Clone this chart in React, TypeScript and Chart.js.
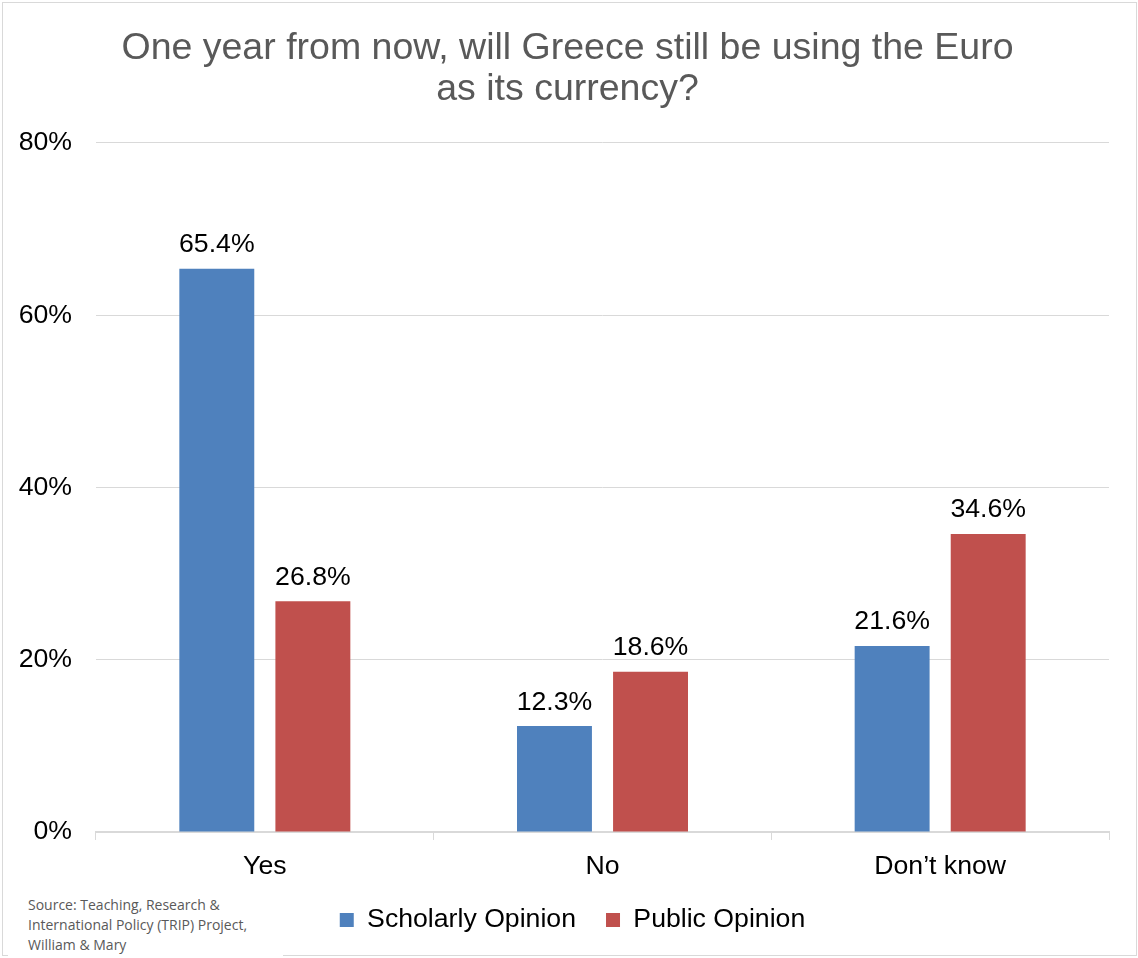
import React, { useEffect, useRef } from "react";
import { Chart, registerables } from "chart.js";

Chart.register(...registerables);

const categories = ["Yes", "No", "Don\u2019t know"];
const scholarly = [65.4, 12.3, 21.6];
const publicOp = [26.8, 18.6, 34.6];
const seriesNames = ["Scholarly Opinion", "Public Opinion"];
const yTicks = [0, 20, 40, 60, 80];
const titleLines = ["One year from now, will Greece still be using the Euro", "as its currency?"];
const sourceLines = ["Source: Teaching, Research &", "International Policy (TRIP) Project,", "William & Mary"];

const FONT = "'Liberation Sans', Arial, sans-serif";
const LABEL_SIZE = 26.67;

const dataLabelPlugin = {
  id: "dataLabels",
  afterDatasetsDraw(chart: any) {
    const ctx = chart.ctx;
    ctx.save();
    ctx.font = `${LABEL_SIZE}px ${FONT}`;
    ctx.fillStyle = "#000000";
    ctx.textAlign = "center";
    ctx.textBaseline = "alphabetic";
    chart.data.datasets.forEach((ds: any, i: number) => {
      const meta = chart.getDatasetMeta(i);
      meta.data.forEach((bar: any, j: number) => {
        ctx.fillText(ds.data[j].toFixed(1) + "%", bar.x, bar.y - 16.5);
      });
    });
    ctx.restore();
  },
};

const boxShiftPlugin = {
  id: "boxShift",
  afterLayout(chart: any) {
    if (chart.legend) {
      chart.legend.left += 18;
      chart.legend.right += 18;
    }
    if (chart.titleBlock) {
      chart.titleBlock.left += 13;
      chart.titleBlock.right += 13;
    }
  },
};

export default function App() {
  const ref = useRef<HTMLCanvasElement | null>(null);
  useEffect(() => {
    document.body.style.margin = "0";
    const chart = new Chart(ref.current as HTMLCanvasElement, {
      type: "bar",
      data: {
        labels: categories,
        datasets: [
          { label: seriesNames[0], data: scholarly, backgroundColor: "#4F81BD", categoryPercentage: 0.569, barPercentage: 0.78 },
          { label: seriesNames[1], data: publicOp, backgroundColor: "#C0504D", categoryPercentage: 0.569, barPercentage: 0.78 },
        ],
      },
      options: {
        responsive: false,
        animation: false,
        layout: { padding: { left: 0, right: 29, top: 0, bottom: 14.67 } },
        plugins: {
          title: {
            display: true,
            text: titleLines,
            color: "#595959",
            font: { family: FONT, size: 37.5, weight: "normal", lineHeight: 1.093 },
            padding: { top: 28, bottom: 33 },
          },
          legend: {
            position: "bottom",
            labels: {
              color: "#000000",
              font: { family: FONT, size: LABEL_SIZE },
              boxWidth: 14,
              boxHeight: 14,
              padding: 30,
            },
          },
          tooltip: { enabled: false },
        },
        scales: {
          x: {
            afterFit: (axis: any) => {
              axis.height = 44.7;
            },
            grid: { drawOnChartArea: false, drawTicks: true, tickLength: 8, color: "#d9d9d9", offset: true },
            border: { color: "#d9d9d9", width: 2 },
            ticks: { color: "#000000", font: { family: FONT, size: LABEL_SIZE }, padding: 11 },
          },
          y: {
            min: 0,
            max: 80,
            afterBuildTicks: (axis: any) => {
              axis.ticks = yTicks.map((v) => ({ value: v }));
            },
            afterFit: (axis: any) => {
              axis.width = 96;
            },
            grid: { color: "#d9d9d9", drawTicks: false },
            border: { display: false },
            ticks: {
              color: "#000000",
              font: { family: FONT, size: LABEL_SIZE },
              padding: 24,
              callback: (v: any) => v + "%",
            },
          },
        },
      },
      plugins: [dataLabelPlugin, boxShiftPlugin],
    });
    return () => chart.destroy();
  }, []);

  return (
    <div style={{ position: "relative", width: 1138, height: 958, background: "#fff", overflow: "hidden" }}>
      <div
        style={{
          position: "absolute",
          left: 2,
          top: 2,
          width: 1133,
          height: 952,
          border: "1px solid #d9d9d9",
          boxSizing: "content-box",
        }}
      />
      <canvas ref={ref} width={1138} height={958} style={{ position: "absolute", left: 0, top: 0 }} />
      <div
        style={{
          position: "absolute",
          left: 8,
          top: 895,
          width: 275,
          height: 70,
          background: "#fff",
          paddingLeft: 20,
          boxSizing: "border-box",
          fontFamily: "'Open Sans', 'Noto Sans', sans-serif",
          fontSize: 14,
          lineHeight: "20px",
          color: "#595959",
        }}
      >
        {sourceLines.map((l, i) => (
          <div key={i} style={{ whiteSpace: "nowrap" }}>{l}</div>
        ))}
      </div>
    </div>
  );
}
